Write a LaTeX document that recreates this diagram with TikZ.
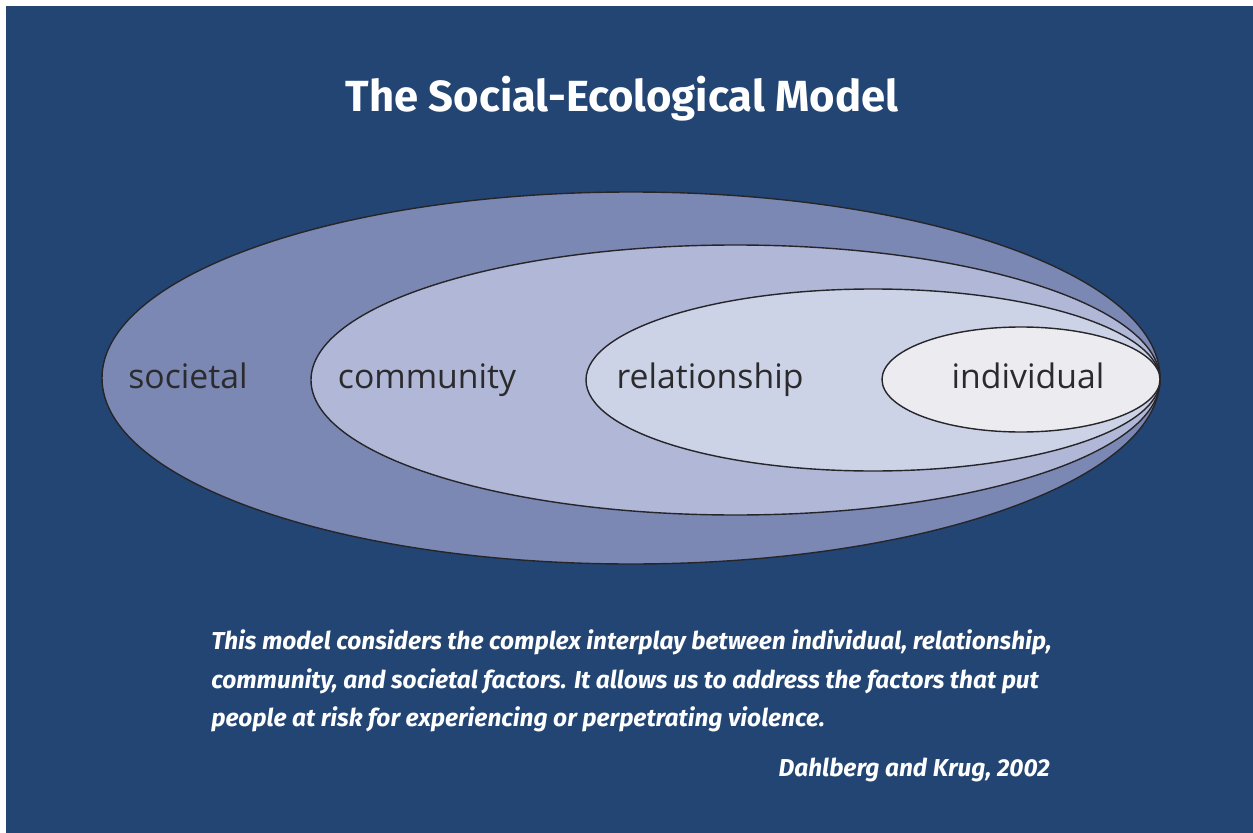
\documentclass[tikz,border=0pt]{standalone}
\usepackage{fontspec}
\setmainfont{Fira Sans}
\newfontfamily\levelfont{Open Sans}
\usetikzlibrary{positioning}
\definecolor{bgblue}{HTML}{234574}
\definecolor{ringsoc}{HTML}{7C88B4}
\definecolor{ringcom}{HTML}{B1B7D6}
\definecolor{ringrel}{HTML}{CDD3E6}
\definecolor{ringind}{HTML}{ECEBEF}
\definecolor{ringedge}{HTML}{26262A}
\definecolor{levelgray}{HTML}{2B2B2E}

\begin{document}
\begin{tikzpicture}[x=0.025cm, y=-0.025cm,
  ring/.style={draw=ringedge, line width=1pt},
  lvl/.style={font=\levelfont\fontsize{24}{28}\selectfont, text=levelgray,
              anchor=base, inner sep=0pt},
  headline/.style={font=\bfseries\fontsize{31}{35}\selectfont, text=white,
                   anchor=base, inner sep=0pt},
  capline/.style={font=\bfseries\itshape\fontsize{17.4}{22}\selectfont,
                  text=white, anchor=base west, inner sep=0pt},
]
  \useasboundingbox (0,0) rectangle (1253,833);
  \fill[white] (0,0) rectangle (1253,833);
  \fill[bgblue] (6,6) rectangle (1253,833);

  % nested levels, all touching at the right tip
  \draw[ring, fill=ringsoc] (631,378)    ellipse [x radius=529,   y radius=186];
  \draw[ring, fill=ringcom] (735.5,380)  ellipse [x radius=424.5, y radius=135];
  \draw[ring, fill=ringrel] (873,380)    ellipse [x radius=287,   y radius=91];
  \draw[ring, fill=ringind] (1021,379.5) ellipse [x radius=139,   y radius=52.5];

  \node[headline] (title) at (622,112) {The Social-Ecological Model};

  \node[lvl] (societal)     at (188,388)  {societal};
  \node[lvl] (community)    at (427,388)  {community};
  \node[lvl] (relationship) at (710,388)  {relationship};
  \node[lvl] (individual)   at (1028,388) {individual};

  % caption under the model
  \node[capline] (cap1) at (211,649) {This model considers the complex interplay between individual, relationship,};
  \node[capline] (cap2) at (211,688) {community, and societal factors. It allows us to address the factors that put};
  \node[capline] (cap3) at (211,726) {people at risk for experiencing or perpetrating violence.};
  \node[capline, anchor=base east] (cite) at (1050,776) {Dahlberg and Krug, 2002};
\end{tikzpicture}
\end{document}
